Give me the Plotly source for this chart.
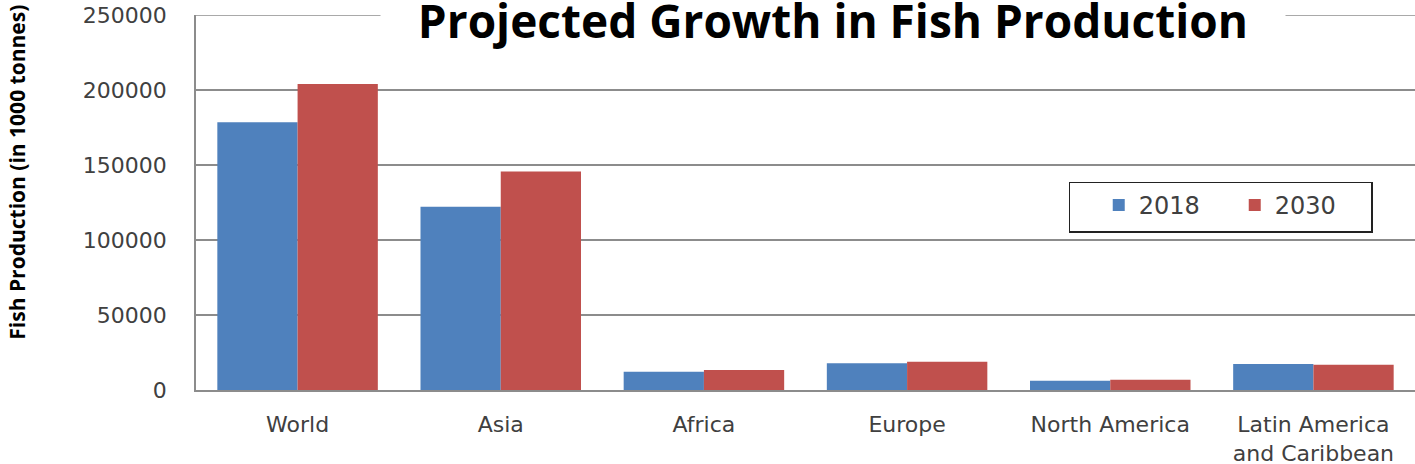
import plotly.graph_objects as go

REGIONS = ["World", "Asia", "Africa", "Europe", "North America", "Latin America<br>and Caribbean"]
PROD_2018 = [178500, 122100, 12100, 17800, 6100, 17400]
PROD_2030 = [204000, 145700, 13400, 18800, 6800, 16800]
Y_TICKS = [0, 50000, 100000, 150000, 200000, 250000]

BLUE = "#4f81bd"
RED = "#c0504d"
GRID = "#8c8c8c"
TEXT = "#404040"

fig = go.Figure()
fig.add_bar(x=REGIONS, y=PROD_2018, name="2018", marker_color=BLUE, marker_line_width=0)
fig.add_bar(x=REGIONS, y=PROD_2030, name="2030", marker_color=RED, marker_line_width=0)

fig.update_layout(
    width=1415, height=464,
    margin=dict(l=196, r=0, t=15, b=74),
    paper_bgcolor="white", plot_bgcolor="white",
    barmode="group", bargap=0.21, bargroupgap=0,
    font=dict(family="DejaVu Sans", color=TEXT, size=20),
    showlegend=True,
    legend=dict(
        orientation="h", x=0.716, y=0.556, xanchor="left", yanchor="top",
        bordercolor="#222222", borderwidth=1.5, bgcolor="white",
        font=dict(size=24, color=TEXT), itemwidth=30, entrywidth=91,
        title=dict(text="&nbsp;&nbsp;", side="left"),
        traceorder="normal",
    ),
)
fig.update_xaxes(
    showline=True, linecolor=GRID, linewidth=1.5, showgrid=False, automargin=False,
    ticks="", tickfont=dict(size=22, color=TEXT), ticklabelstandoff=14,
)
fig.update_yaxes(
    range=[0, 250000], tickvals=Y_TICKS, tickformat="d", automargin=False,
    showline=True, linecolor=GRID, linewidth=1.5,
    showgrid=True, gridcolor=GRID, gridwidth=1.5, zeroline=False,
    ticks="outside", ticklen=23, tickcolor="rgba(0,0,0,0)",
    tickfont=dict(size=22, color=TEXT),
)

# top gridline (plotly clips the grid at the range end)
fig.add_hline(y=Y_TICKS[-1], line_color=GRID, line_width=1.5, layer="below")

# title sits on the top gridline with a white box behind it
fig.add_annotation(
    text="&nbsp;&nbsp;&nbsp;<b>Projected Growth in Fish Production</b>&nbsp;&nbsp;&nbsp;",
    xref="paper", yref="paper", x=0.5226, y=1.0, yshift=-5,
    xanchor="center", yanchor="middle", showarrow=False,
    font=dict(family="Open Sans", size=46, color="black"),
    bgcolor="white", borderpad=1,
)
fig.add_annotation(
    text="<b>Fish Production (in 1000 tonnes)</b>",
    xref="paper", yref="paper", x=-0.1475, y=0.58,
    xanchor="center", yanchor="middle", textangle=-90, showarrow=False,
    font=dict(family="Open Sans", size=21, color="black"),
)

# drop the default 8px page margin so the figure fills the window
fig.write_html(
    "out.html",
    config={"displayModeBar": False},
    post_script="document.body.style.margin='0px';",
)
